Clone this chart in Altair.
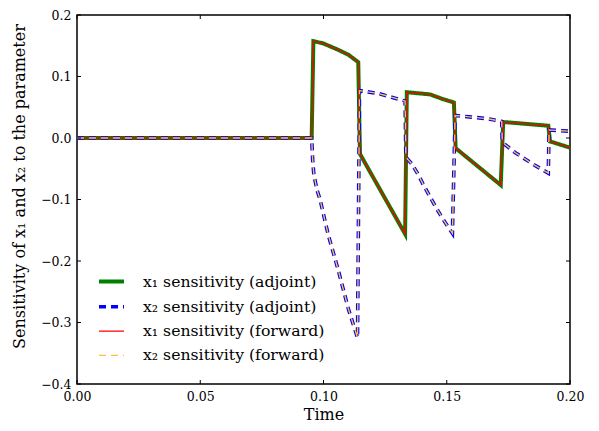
import altair as alt
import pandas as pd

# ---- data ----
t_x1 = [0.0, 0.0952, 0.0959, 0.0999, 0.1054, 0.1101, 0.1141, 0.1148, 0.1331, 0.1338,
        0.1432, 0.1486, 0.1529, 0.1536, 0.1719, 0.1729, 0.1912, 0.1919, 0.2000]
x1_adjoint = [0.0, 0.0, 0.1575, 0.1538, 0.1444, 0.1354, 0.1233, -0.026, -0.156, 0.0745,
              0.0709, 0.0630, 0.0578, -0.0165, -0.0765, 0.0260, 0.0200, -0.0055, -0.0157]
x1_forward = [0.0, 0.0, 0.1575, 0.1538, 0.1444, 0.1354, 0.1233, -0.026, -0.156, 0.0745,
              0.0709, 0.0630, 0.0578, -0.0165, -0.0765, 0.0260, 0.0200, -0.0055, -0.0157]

t_x2 = [0.0, 0.0952, 0.0956, 0.0961, 0.0974, 0.0986, 0.1019, 0.1060, 0.1101, 0.1138,
        0.1146, 0.1222, 0.1283, 0.1331, 0.1334, 0.1358, 0.1385, 0.1405, 0.1459, 0.1493,
        0.1523, 0.1534, 0.1601, 0.1662, 0.1723, 0.1725, 0.1736, 0.1777, 0.1817, 0.1858,
        0.1912, 0.1915, 0.2000]
x2_adjoint = [0.0, 0.0, -0.035, -0.060, -0.085, -0.100, -0.157, -0.215, -0.278, -0.325,
              0.077, 0.0724, 0.0656, 0.060, -0.031, -0.042, -0.060, -0.076, -0.115, -0.137,
              -0.155, 0.0367, 0.034, 0.0315, 0.027, -0.004, -0.0105, -0.0236, -0.034, -0.0446,
              -0.057, 0.013, 0.011]
x2_forward = [0.0, 0.0, -0.035, -0.060, -0.085, -0.100, -0.157, -0.215, -0.278, -0.325,
              0.077, 0.0724, 0.0656, 0.060, -0.031, -0.042, -0.060, -0.076, -0.115, -0.137,
              -0.155, 0.0367, 0.034, 0.0315, 0.027, -0.004, -0.0105, -0.0236, -0.034, -0.0446,
              -0.057, 0.013, 0.011]

series_names = ["x\u2081 sensitivity (adjoint)", "x\u2082 sensitivity (adjoint)",
                "x\u2081 sensitivity (forward)", "x\u2082 sensitivity (forward)"]
series_colors = ["#008000", "#0000ff", "#ff0000", "#ffbf40"]
series_dash = [[1, 0], [7, 5], [1, 0], [7, 5]]
series_width = [4, 3.6, 1.3, 1.4]

x_ticks = [0.0, 0.05, 0.10, 0.15, 0.20]
y_ticks = [-0.4, -0.3, -0.2, -0.1, 0.0, 0.1, 0.2]

# ---- build table ----
rows = []
for name, ts, vs in [(series_names[0], t_x1, x1_adjoint),
                     (series_names[1], t_x2, x2_adjoint),
                     (series_names[2], t_x1, x1_forward),
                     (series_names[3], t_x2, x2_forward)]:
    for i, (t, v) in enumerate(zip(ts, vs)):
        rows.append({"series": name, "t": t, "v": v, "idx": i})
df = pd.DataFrame(rows)

W, H = 493, 369
FONT = "DejaVu Serif"

xscale = alt.Scale(domain=[0, 0.2], nice=False, zero=False, padding=0)
yscale = alt.Scale(domain=[-0.4, 0.2], nice=False, zero=False, padding=0)

x_axis = alt.Axis(values=x_ticks, format=".2f", title="Time", ticks=False,
                  domain=False, grid=False, labelPadding=6, titlePadding=4,
                  labelFlush=False)
y_axis = alt.Axis(values=y_ticks, format=".1f",
                  title="Sensitivity of x\u2081 and x\u2082 to the parameter",
                  ticks=False, domain=False, grid=False, labelPadding=6,
                  titlePadding=13, titleY=171, labelFlush=False)

legend = alt.Legend(title=None, orient="none", legendX=20, legendY=252,
                    symbolSize=625, symbolType="stroke", labelFontSize=15.7,
                    labelFont=FONT, rowPadding=2.3, labelOffset=17, padding=0,
                    labelLimit=300, labelColor="black")

lines = alt.Chart(df).mark_line(clip=True).encode(
    x=alt.X("t:Q", scale=xscale, axis=x_axis),
    y=alt.Y("v:Q", scale=yscale, axis=y_axis),
    color=alt.Color("series:N",
                    scale=alt.Scale(type="ordinal", domain=series_names, range=series_colors),
                    legend=legend, sort=series_names),
    strokeDash=alt.StrokeDash("series:N",
                              scale=alt.Scale(type="ordinal", domain=series_names, range=series_dash),
                              legend=legend, sort=series_names),
    strokeWidth=alt.StrokeWidth("series:N",
                                scale=alt.Scale(type="ordinal", domain=series_names, range=series_width),
                                legend=legend, sort=series_names),
    order=alt.Order("idx:Q"),
)

xt = pd.DataFrame({"t": x_ticks})
yt = pd.DataFrame({"v": y_ticks})
tick_style = dict(color="black", strokeWidth=1)
left_ticks = alt.Chart(yt).mark_rule(**tick_style).encode(
    y=alt.Y("v:Q", scale=yscale, axis=y_axis), x=alt.value(0), x2=alt.value(4))
right_ticks = alt.Chart(yt).mark_rule(**tick_style).encode(
    y=alt.Y("v:Q", scale=yscale, axis=y_axis), x=alt.value(W - 4), x2=alt.value(W))
bottom_ticks = alt.Chart(xt).mark_rule(**tick_style).encode(
    x=alt.X("t:Q", scale=xscale, axis=x_axis), y=alt.value(H - 4), y2=alt.value(H))
top_ticks = alt.Chart(xt).mark_rule(**tick_style).encode(
    x=alt.X("t:Q", scale=xscale, axis=x_axis), y=alt.value(0), y2=alt.value(4))

chart = alt.layer(lines, left_ticks, right_ticks, bottom_ticks, top_ticks).properties(
    width=W, height=H,
    autosize=alt.AutoSizeParams(type="none"),
    padding={"left": 69, "top": 7, "right": 21, "bottom": 40},
).configure_view(
    stroke="black", strokeWidth=1.5
).configure_axis(
    labelFont=FONT, titleFont=FONT, labelFontSize=12.5, titleFontSize=16,
    titleFontWeight="normal", labelColor="black", titleColor="black"
)

chart.save("out.html", embed_options={"renderer": "svg", "actions": False})
